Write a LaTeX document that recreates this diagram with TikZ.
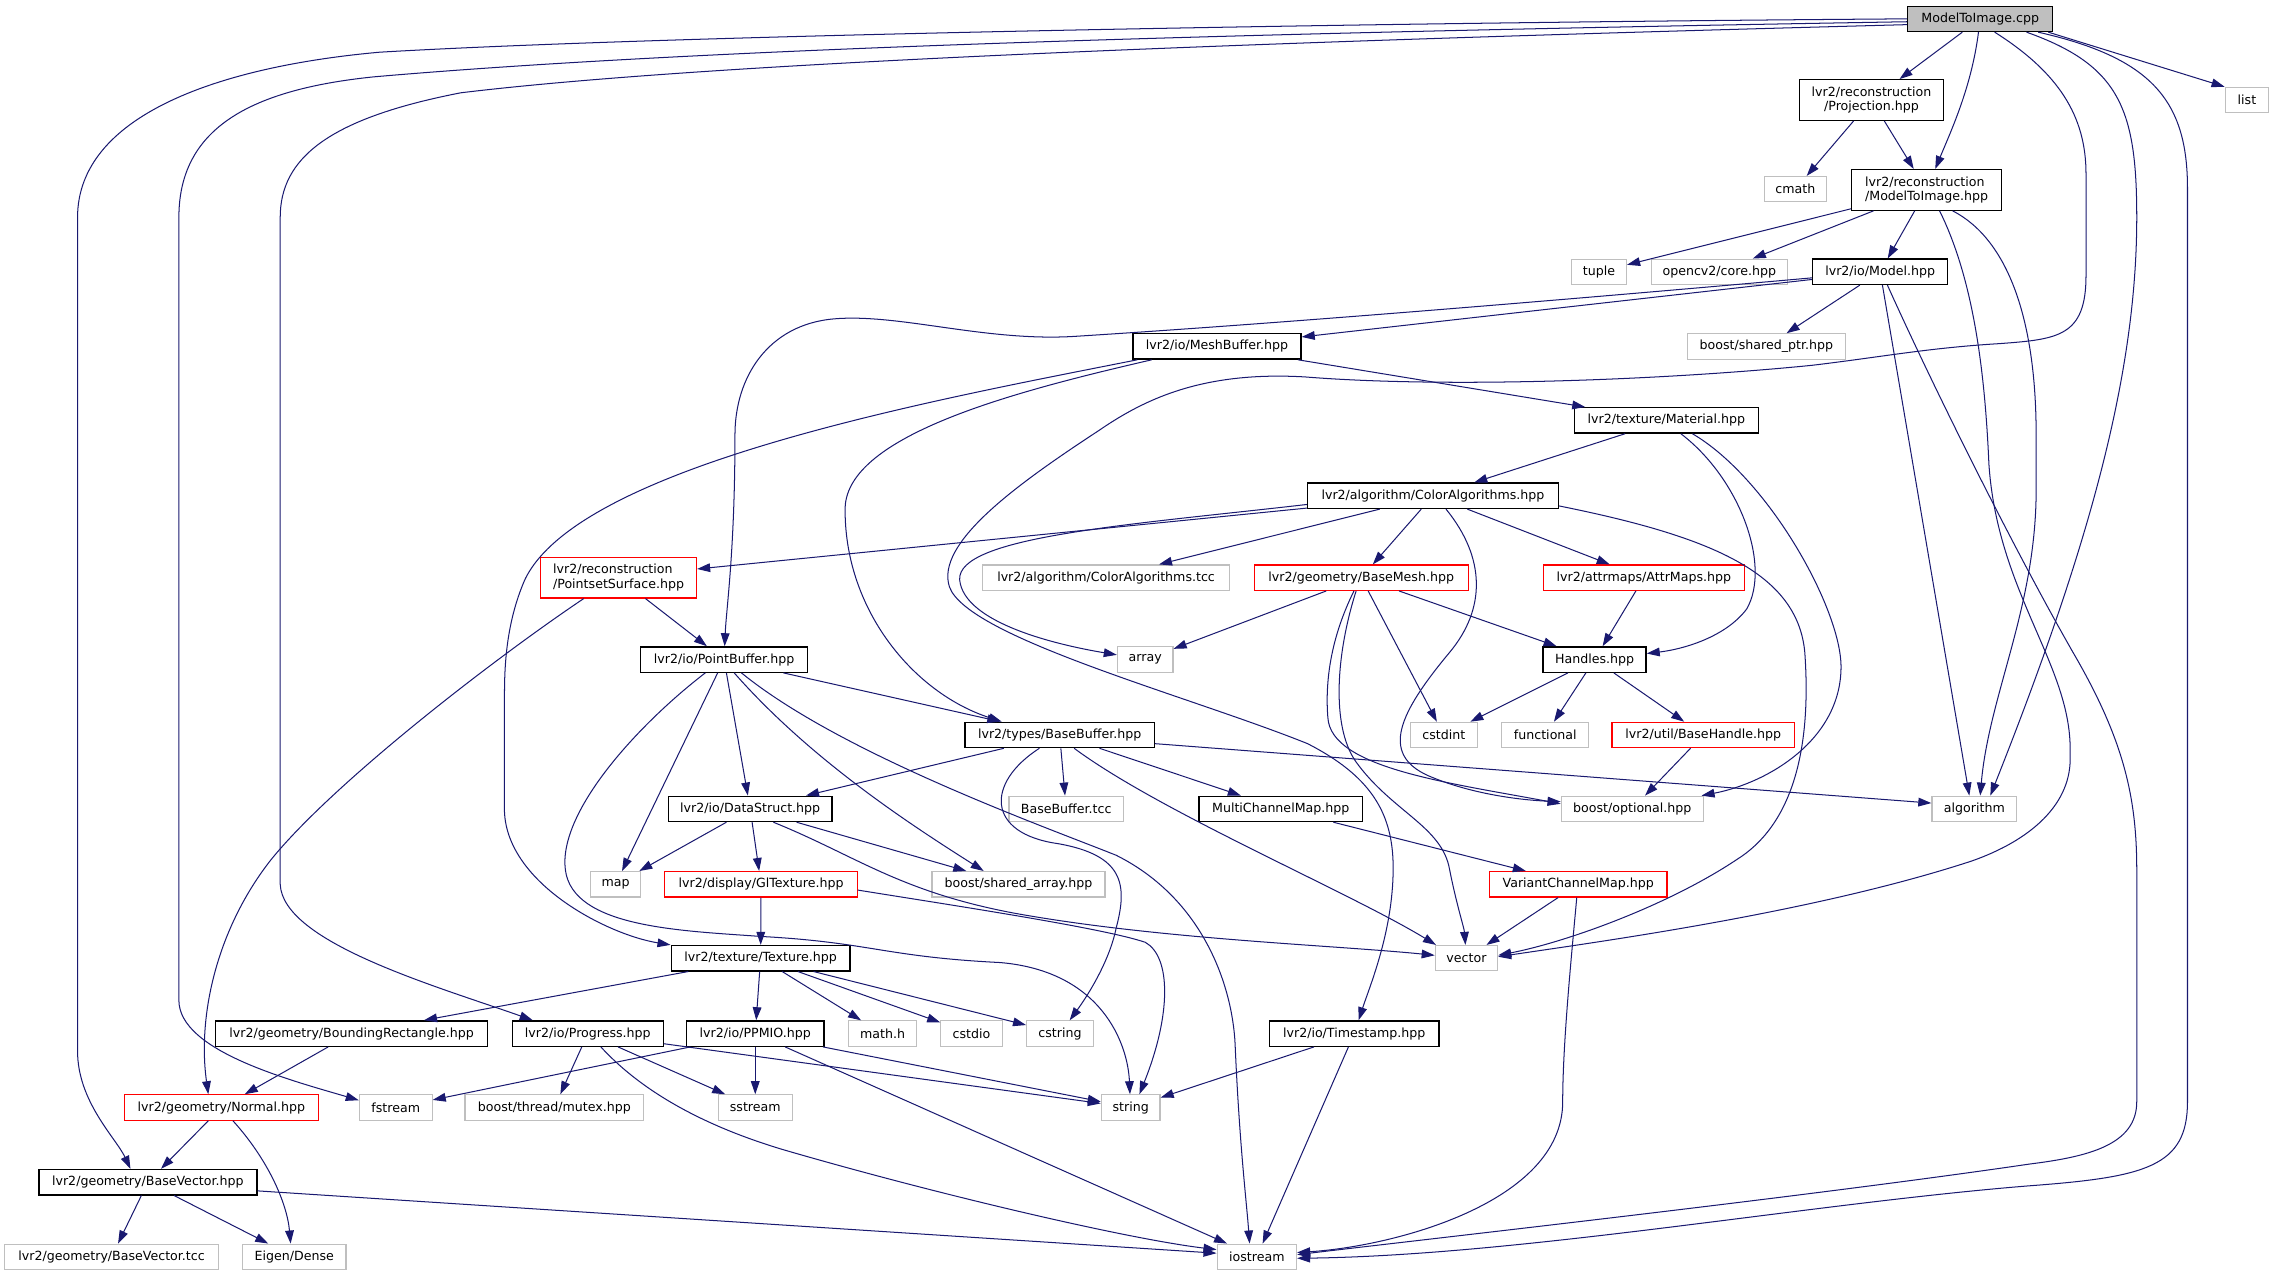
\documentclass[tikz,border=0pt]{standalone}
\usepackage{fontspec}
\setmainfont{DejaVu Sans}
\usetikzlibrary{arrows.meta}
\definecolor{edgecol}{RGB}{25,25,112}
\definecolor{extgray}{RGB}{191,191,191}
\definecolor{rootfill}{RGB}{191,191,191}
\begin{document}
\begin{tikzpicture}[x=1pt,y=-1pt,
  font=\fontsize{8.7}{10}\selectfont,
  base/.style={rectangle, inner sep=0pt, minimum height=17.5pt, fill=white},
  doc/.style={base, draw=black, line width=0.9pt},
  ext/.style={base, draw=extgray, line width=0.8pt},
  redbox/.style={base, draw=red, line width=0.8pt},
  rootbox/.style={base, draw=black, fill=rootfill, line width=0.9pt},
  two/.style={minimum height=28pt},
  edge/.style={draw=edgecol, line width=0.7pt, -{Triangle[length=9pt,width=6pt]}}
]
\fill[white] (0,0) rectangle (1568,880);
\useasboundingbox (0,0) rectangle (1568,880);

% ---------- nodes ----------
\node[rootbox, minimum width=100pt] (M) at (1366,13) {ModelToImage.cpp};
\node[doc, two, align=center, minimum width=99pt] (proj) at (1291,69) {lvr2/reconstruction\\/Projection.hpp};
\node[ext, minimum width=30pt] (list) at (1550,69) {list};
\node[ext, minimum width=43pt] (cmath) at (1238.5,130.5) {cmath};
\node[doc, two, align=left, minimum width=103.5pt] (mti) at (1329,131) {lvr2/reconstruction\\/ModelToImage.hpp};
\node[ext, minimum width=38pt] (tuple) at (1103,187.5) {tuple};
\node[ext, minimum width=94pt] (opencv) at (1186,187.5) {opencv2/core.hpp};
\node[doc, minimum width=93pt] (model) at (1297,187.5) {lvr2/io/Model.hpp};
\node[ext, minimum width=109pt] (sptr) at (1218.5,239) {boost/shared\_ptr.hpp};
\node[doc, minimum width=116pt] (meshbuf) at (839.5,239) {lvr2/io/MeshBuffer.hpp};
\node[doc, minimum width=127pt] (material) at (1149.5,290) {lvr2/texture/Material.hpp};
\node[doc, minimum width=173pt] (coloralg) at (988.5,342) {lvr2/algorithm/ColorAlgorithms.hpp};
\node[redbox, two, align=left, minimum width=107.6pt] (pss) at (426.7,398.5) {lvr2/reconstruction\\/PointsetSurface.hpp};
\node[ext, minimum width=170.6pt] (catcc) at (763,398.5) {lvr2/algorithm/ColorAlgorithms.tcc};
\node[redbox, minimum width=147.5pt] (basemesh) at (939,398.5) {lvr2/geometry/BaseMesh.hpp};
\node[redbox, minimum width=139pt] (attrmaps) at (1134,398.5) {lvr2/attrmaps/AttrMaps.hpp};
\node[doc, minimum width=115pt] (pointbuf) at (499.5,455) {lvr2/io/PointBuffer.hpp};
\node[ext, minimum width=38.4pt] (array) at (790,455) {array};
\node[doc, minimum width=71pt] (handles) at (1100,455) {Handles.hpp};
\node[doc, minimum width=130.5pt] (basebuf) at (731,507) {lvr2/types/BaseBuffer.hpp};
\node[ext, minimum width=46pt] (cstdint) at (996,507) {cstdint};
\node[ext, minimum width=60pt] (functional) at (1066,507) {functional};
\node[redbox, minimum width=126pt] (basehandle) at (1175,507) {lvr2/util/BaseHandle.hpp};
\node[doc, minimum width=113pt] (datastruct) at (517.5,558) {lvr2/io/DataStruct.hpp};
\node[ext, minimum width=79pt] (basetcc) at (735.5,558) {BaseBuffer.tcc};
\node[doc, minimum width=113pt] (mcm) at (883.5,558) {MultiChannelMap.hpp};
\node[ext, minimum width=98pt] (optional) at (1126,558) {boost/optional.hpp};
\node[ext, minimum width=58.6pt] (algorithm) at (1362,558) {algorithm};
\node[ext, minimum width=34.7pt] (map) at (424.7,610) {map};
\node[redbox, minimum width=132.7pt] (gltex) at (525,610) {lvr2/display/GlTexture.hpp};
\node[ext, minimum width=119.4pt] (sarr) at (702.6,610) {boost/shared\_array.hpp};
\node[redbox, minimum width=122.5pt] (vcm) at (1088.7,610) {VariantChannelMap.hpp};
\node[doc, minimum width=123.4pt] (texture) at (524.7,661) {lvr2/texture/Texture.hpp};
\node[ext, minimum width=43pt] (vector) at (1011.6,661) {vector};
\node[doc, minimum width=187.6pt] (boundrect) at (242.6,713) {lvr2/geometry/BoundingRectangle.hpp};
\node[doc, minimum width=104pt] (progress) at (405.5,713) {lvr2/io/Progress.hpp};
\node[doc, minimum width=95pt] (ppmio) at (521,713) {lvr2/io/PPMIO.hpp};
\node[ext, minimum width=46.8pt] (mathh) at (608.8,713) {math.h};
\node[ext, minimum width=42.4pt] (cstdio) at (670.2,713) {cstdio};
\node[ext, minimum width=46pt] (cstring) at (731.2,713) {cstring};
\node[doc, minimum width=117pt] (timestamp) at (934.2,713) {lvr2/io/Timestamp.hpp};
\node[redbox, minimum width=134pt] (normal) at (152.7,764) {lvr2/geometry/Normal.hpp};
\node[ext, minimum width=50.2pt] (fstream) at (273,764) {fstream};
\node[ext, minimum width=123.3pt] (mutex) at (382.4,764) {boost/thread/mutex.hpp};
\node[ext, minimum width=51pt] (sstream) at (521,764) {sstream};
\node[ext, minimum width=40.5pt] (string) at (780,764) {string};
\node[doc, minimum width=150.4pt] (basevec) at (102,815.5) {lvr2/geometry/BaseVector.hpp};
\node[ext, minimum width=147.5pt] (bvtcc) at (77,867) {lvr2/geometry/BaseVector.tcc};
\node[ext, minimum width=71.3pt] (eigen) at (203,867) {Eigen/Dense};
\node[ext, minimum width=54.8pt] (iostream) at (867,867) {iostream};

% ---------- edges: ModelToImage.cpp ----------
\draw[edge] (M) -- (proj);
\draw[edge] (M) .. controls (1360,60) and (1346,90) .. (mti);
\draw[edge] ([xshift=47pt]M.south) -- (list.north west);
\draw[edge] ([xshift=32pt]M.south) .. controls (1462,45) and (1474,75) .. (1474,150) .. controls (1474,260) and (1440,380) .. ([xshift=11pt]algorithm.north);
\draw[edge] ([xshift=40pt]M.south) .. controls (1485,40) and (1509,70) .. (1509,130) -- (1509,760) .. controls (1509,805) and (1480,812) .. (1400,818) .. controls (1250,830) and (1050,866) .. ([yshift=-1pt]iostream.east);
\draw[edge] ([xshift=10pt]M.south) .. controls (1420,50) and (1439,80) .. (1439,120) -- (1439,190) .. controls (1439,232) and (1420,234) .. (1380,237) .. controls (1330,240) and (1300,246) .. (1250,252) .. controls (1150,262) and (1000,268) .. (900,260) .. controls (830,256) and (790,275) .. (758,297) .. controls (700,335) and (645,375) .. (655,405) .. controls (668,440) and (820,480) .. (902,513) .. controls (945,535) and (960,560) .. (961,595) .. controls (962,640) and (945,680) .. (timestamp);
\draw[edge] ([yshift=0pt]M.west) .. controls (900,16) and (450,25) .. (262,36) .. controls (150,46) and (53.5,80) .. (53.5,150) -- (53.5,725) .. controls (53.5,760) and (80,785) .. ([xshift=-12pt]basevec.north);
\draw[edge] ([yshift=-2pt]M.west) .. controls (900,22) and (500,32) .. (258,53) .. controls (170,62) and (123.4,90) .. (123.4,150) -- (123.4,690) .. controls (123.4,725) and (200,745) .. ([yshift=5pt]fstream.west);
\draw[edge] ([yshift=-4pt]M.west) .. controls (900,28) and (500,42) .. (318,64) .. controls (225,82) and (193.3,110) .. (193.3,150) -- (193.3,610) .. controls (195,650) and (300,680) .. ([xshift=-38pt]progress.north);

% ---------- Projection / ModelToImage.hpp ----------
\draw[edge] (proj) -- (cmath);
\draw[edge] (proj) -- (mti);
\draw[edge] (mti) -- (tuple);
\draw[edge] (mti) -- (opencv);
\draw[edge] (mti) -- (model);
\draw[edge] ([xshift=9pt]mti.south) .. controls (1360,190) and (1369,250) .. (1372,320) .. controls (1378,410) and (1430,460) .. (1428,520) .. controls (1430,555) and (1400,580) .. (1360,594) .. controls (1250,630) and (1100,650) .. ([yshift=1pt]vector.east);
\draw[edge] ([xshift=18pt]mti.south) .. controls (1385,165) and (1404.6,220) .. (1404.6,300) -- (1404.6,340) .. controls (1404,420) and (1372,480) .. ([xshift=4pt]algorithm.north);

% ---------- Model.hpp ----------
\draw[edge] (model) -- (meshbuf);
\draw[edge] (model) .. controls (1100,205) and (900,222) .. (742,232) .. controls (680,236) and (620,216) .. (575,220) .. controls (530,224) and (507,260) .. (507,300) .. controls (507,380) and (501,420) .. (pointbuf);
\draw[edge] (model) -- (sptr);
\draw[edge] (model) -- ([xshift=-3.5pt]algorithm.north);
\draw[edge] ([xshift=5pt]model.south) .. controls (1335,270) and (1390,380) .. (1430,450) .. controls (1465,510) and (1474,550) .. (1474,600) -- (1474,760) .. controls (1474,790) and (1440,798) .. (1400,803) .. controls (1250,825) and (1000,853) .. ([yshift=1.5pt]iostream.east);

% ---------- MeshBuffer.hpp ----------
\draw[edge] (meshbuf) -- (material);
\draw[edge] ([xshift=-55pt]meshbuf.south) .. controls (650,275) and (400,320) .. (362,400) .. controls (349,430) and (348,460) .. (348,480) -- (348,560) .. controls (350,610) and (420,645) .. (texture.north west);
\draw[edge] ([xshift=-45pt]meshbuf.south) .. controls (700,270) and (585,300) .. (583,350) .. controls (582,420) and (630,478) .. ([xshift=-40pt]basebuf.north);

% ---------- Material.hpp ----------
\draw[edge] (material) -- (coloralg);
\draw[edge] ([xshift=10pt]material.south) .. controls (1200,330) and (1222,390) .. (1205,420) .. controls (1190,440) and (1160,448) .. (handles);
\draw[edge] ([xshift=18pt]material.south) .. controls (1220,330) and (1270,420) .. (1270,460) .. controls (1270,510) and (1220,540) .. (optional);

% ---------- ColorAlgorithms.hpp ----------
\draw[edge] ([yshift=-8.5pt]coloralg.west) -- ([yshift=6pt]pss.east);
\draw[edge] (coloralg) -- (catcc);
\draw[edge] (coloralg) -- (basemesh);
\draw[edge] (coloralg) -- (attrmaps);
\draw[edge] ([yshift=-6pt]coloralg.west) .. controls (780,362) and (660,370) .. (662,400) .. controls (665,430) and (730,445) .. (array);
\draw[edge] ([xshift=9pt]coloralg.south) .. controls (1025,385) and (1025,420) .. (1000,450) .. controls (965,492) and (952,520) .. (985,535) .. controls (1015,548) and (1050,552) .. ([yshift=5pt]optional.west);
\draw[edge] ([yshift=-7pt]coloralg.east) .. controls (1180,370) and (1240,395) .. (1245,450) .. controls (1250,520) and (1235,570) .. (1198,593) .. controls (1150,625) and (1080,650) .. ([yshift=2pt]vector.east);

% ---------- BaseMesh.hpp ----------
\draw[edge] (basemesh) -- (array);
\draw[edge] (basemesh) -- (handles);
\draw[edge] (basemesh) -- (cstdint);
\draw[edge] ([xshift=-5pt]basemesh.south) .. controls (918,440) and (914,470) .. (916,495) .. controls (918,530) and (1000,540) .. ([yshift=3.5pt]optional.west);
\draw[edge] ([xshift=-3.5pt]basemesh.south) .. controls (922,450) and (918,500) .. (935,525) .. controls (960,560) and (995,570) .. (1000,600) .. controls (1005,625) and (1010,640) .. (vector);

% ---------- AttrMaps / Handles / BaseHandle ----------
\draw[edge] (attrmaps) -- (handles);
\draw[edge] (handles) -- (cstdint);
\draw[edge] (handles) -- (functional);
\draw[edge] (handles) -- (basehandle);
\draw[edge] (basehandle) -- (optional);

% ---------- PointsetSurface.hpp ----------
\draw[edge] (pss) -- (pointbuf);
\draw[edge] ([xshift=-24pt]pss.south) .. controls (340,455) and (230,540) .. (187,593) .. controls (150,640) and (136,700) .. ([xshift=-9pt]normal.north);

% ---------- PointBuffer.hpp ----------
\draw[edge] (pointbuf) -- (basebuf);
\draw[edge] ([xshift=-13pt]pointbuf.south) .. controls (440,500) and (385,560) .. (390,600) .. controls (395,640) and (470,642) .. (525,646) .. controls (600,650) and (610,660) .. (690,664) .. controls (760,670) and (778,720) .. ([xshift=-0.5pt]string.north);
\draw[edge] (pointbuf) -- (map);
\draw[edge] (pointbuf) -- (datastruct);
\draw[edge] ([xshift=7pt]pointbuf.south) .. controls (560,525) and (630,570) .. ([xshift=-24pt]sarr.north);
\draw[edge] ([xshift=12pt]pointbuf.south) .. controls (580,520) and (720,570) .. (770,590) .. controls (830,620) and (850,680) .. (852,720) .. controls (855,790) and (860,830) .. ([xshift=-5pt]iostream.north);

% ---------- DataStruct.hpp ----------
\draw[edge] (datastruct) -- (map);
\draw[edge] (datastruct) -- (gltex);
\draw[edge] (datastruct) -- ([xshift=-36pt]sarr.north);
\draw[edge] ([xshift=16pt]datastruct.south) .. controls (590,590) and (620,615) .. (700,630) .. controls (800,648) and (920,652) .. ([yshift=2pt]vector.west);

% ---------- GlTexture.hpp ----------
\draw[edge] (gltex) -- (texture);
\draw[edge] ([yshift=-4pt]gltex.east) .. controls (660,625) and (760,640) .. (790,650) .. controls (808,660) and (808,700) .. ([xshift=6pt]string.north);

% ---------- BaseBuffer.hpp ----------
\draw[edge] (basebuf) -- (datastruct);
\draw[edge] ([xshift=-14pt]basebuf.south) .. controls (680,540) and (680,575) .. (730,582) .. controls (775,590) and (778,610) .. (770,640) .. controls (765,665) and (748,690) .. (cstring);
\draw[edge] (basebuf) -- (basetcc);
\draw[edge] ([xshift=10pt]basebuf.south) .. controls (800,560) and (930,615) .. ([xshift=-21pt]vector.north);
\draw[edge] (basebuf) -- (mcm);
\draw[edge] ([yshift=-6pt]basebuf.east) -- ([yshift=4pt]algorithm.west);

% ---------- MultiChannelMap / VariantChannelMap ----------
\draw[edge] (mcm) -- (vcm);
\draw[edge] (vcm) -- (vector);
\draw[edge] ([xshift=-1pt]vcm.south) .. controls (1084,660) and (1078,720) .. (1078,760) .. controls (1078,830) and (960,860) .. ([yshift=3pt]iostream.east);

% ---------- Texture.hpp ----------
\draw[edge] (texture) -- (boundrect);
\draw[edge] (texture) -- (ppmio);
\draw[edge] (texture) -- (mathh);
\draw[edge] (texture) -- (cstdio);
\draw[edge] (texture) -- (cstring);

% ---------- lower level ----------
\draw[edge] (boundrect) -- (normal);
\draw[edge] (progress) -- (mutex);
\draw[edge] (progress) -- (sstream);
\draw[edge] ([yshift=-7pt]progress.east) -- (string);
\draw[edge] ([xshift=9pt]progress.south) .. controls (440,750) and (480,775) .. (540,793) .. controls (650,825) and (780,855) .. ([yshift=5pt]iostream.west);
\draw[edge] (ppmio) -- (fstream);
\draw[edge] (ppmio) -- (sstream);
\draw[edge] (ppmio) -- (string);
\draw[edge] (ppmio) -- (iostream);
\draw[edge] (timestamp) -- (string);
\draw[edge] (timestamp) -- (iostream);
\draw[edge] (normal) -- (basevec);
\draw[edge] ([xshift=8pt]normal.south) .. controls (185,800) and (198,830) .. ([xshift=-2.5pt]eigen.north);
\draw[edge] (basevec) -- (bvtcc);
\draw[edge] (basevec) -- (eigen);
\draw[edge] ([yshift=-6pt]basevec.east) -- ([yshift=2.5pt]iostream.west);
\end{tikzpicture}
\end{document}
